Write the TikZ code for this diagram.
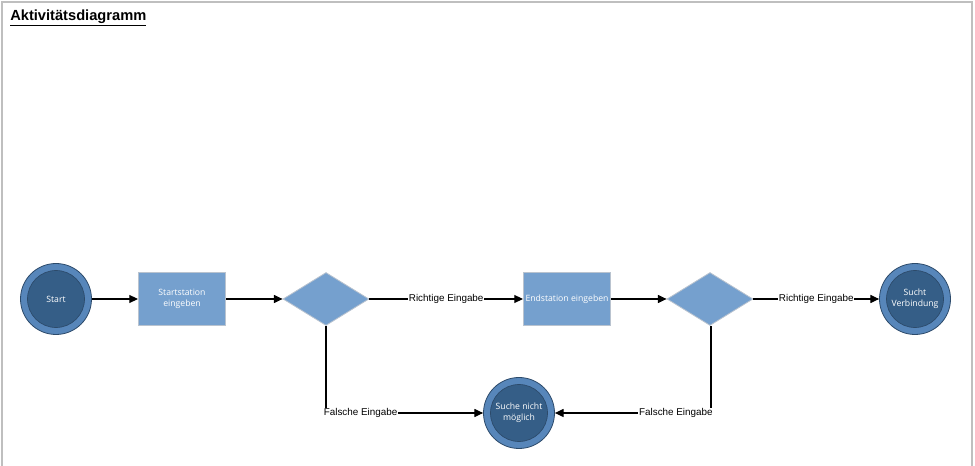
\documentclass[tikz,border=0pt]{standalone}
\usepackage{fontspec}
\setmainfont{Liberation Sans}
\newfontfamily\nodefont{Open Sans}
\usetikzlibrary{arrows.meta,shapes.geometric}
\definecolor{ringblue}{HTML}{5786BA}
\definecolor{coreblue}{HTML}{355E87}
\definecolor{edgeblue}{HTML}{2C4A6A}
\definecolor{boxblue}{HTML}{75A0CE}
\definecolor{boxedge}{HTML}{B9C3CF}
\definecolor{framegray}{HTML}{BFBFBF}
\tikzset{
  ring/.style={circle, draw=edgeblue, line width=0.6pt, fill=ringblue, minimum size=71*0.75pt, inner sep=0pt},
  core/.style={circle, draw=edgeblue, line width=0.5pt, fill=coreblue, minimum size=57*0.75pt, inner sep=0pt,
    text=white, font=\nodefont\fontsize{6.5}{8.6}\selectfont, align=center},
  actbox/.style={rectangle, draw=boxedge, line width=0.8pt, fill=boxblue, minimum width=87*0.75pt, minimum height=53*0.75pt,
    inner sep=0pt, text=white, font=\nodefont\fontsize{6.5}{8.6}\selectfont, align=center},
  decide/.style={diamond, draw=boxedge, line width=0.6pt, fill=boxblue, minimum width=86*0.75pt, minimum height=53*0.75pt,
    inner sep=0pt, aspect=1.62},
  flow/.style={line width=0.8pt, -{Triangle[length=6.5pt,width=6pt]}},
  lbl/.style={fill=white, inner sep=0.6pt, font=\fontsize{7.4}{9}\selectfont}
}
\begin{document}
\begin{tikzpicture}[x=0.75pt,y=-0.75pt]
\useasboundingbox (0,0) rectangle (975,466);
\draw[framegray, line width=0.8pt] (2,466) -- (2,2) -- (972,2) -- (972,466);
\node[anchor=west, font=\bfseries\fontsize{11}{13}\selectfont, inner sep=0pt] (title) at (10,18) {\underline{Aktivitätsdiagramm}};

\node[ring] (start) at (56,299) {};
\node[core] (startc) at (56,299) {Start};

\node[actbox] (s1) at (182,299) {Startstation\\eingeben};
\node[decide] (d1) at (326,299) {};
\node[actbox] (s2) at (567,299) {Endstation eingeben};
\node[decide] (d2) at (710,299) {};

\node[ring] (ok) at (915,299) {};
\node[core] (okc) at (915,299) {Sucht\\Verbindung};

\node[ring] (fail) at (519,413) {};
\node[core] (failc) at (519,413) {Suche nicht\\möglich};

\coordinate (c1) at (326,413);
\coordinate (c2) at (711,413);

\draw[flow] (start) -- (s1);
\draw[flow] (s1) -- (d1);
\draw[flow] (d1) -- node[lbl] {Richtige Eingabe} (s2);
\draw[flow] (s2) -- (d2);
\draw[flow] (d2) -- node[lbl] {Richtige Eingabe} (ok);
\draw[flow] (d1.south) -- (c1) -- node[lbl, pos=0.22] {Falsche Eingabe} (fail);
\draw[flow] (d2.south -| c2) -- (c2) -- node[lbl, pos=0.225] {Falsche Eingabe} (fail);
\end{tikzpicture}
\end{document}
